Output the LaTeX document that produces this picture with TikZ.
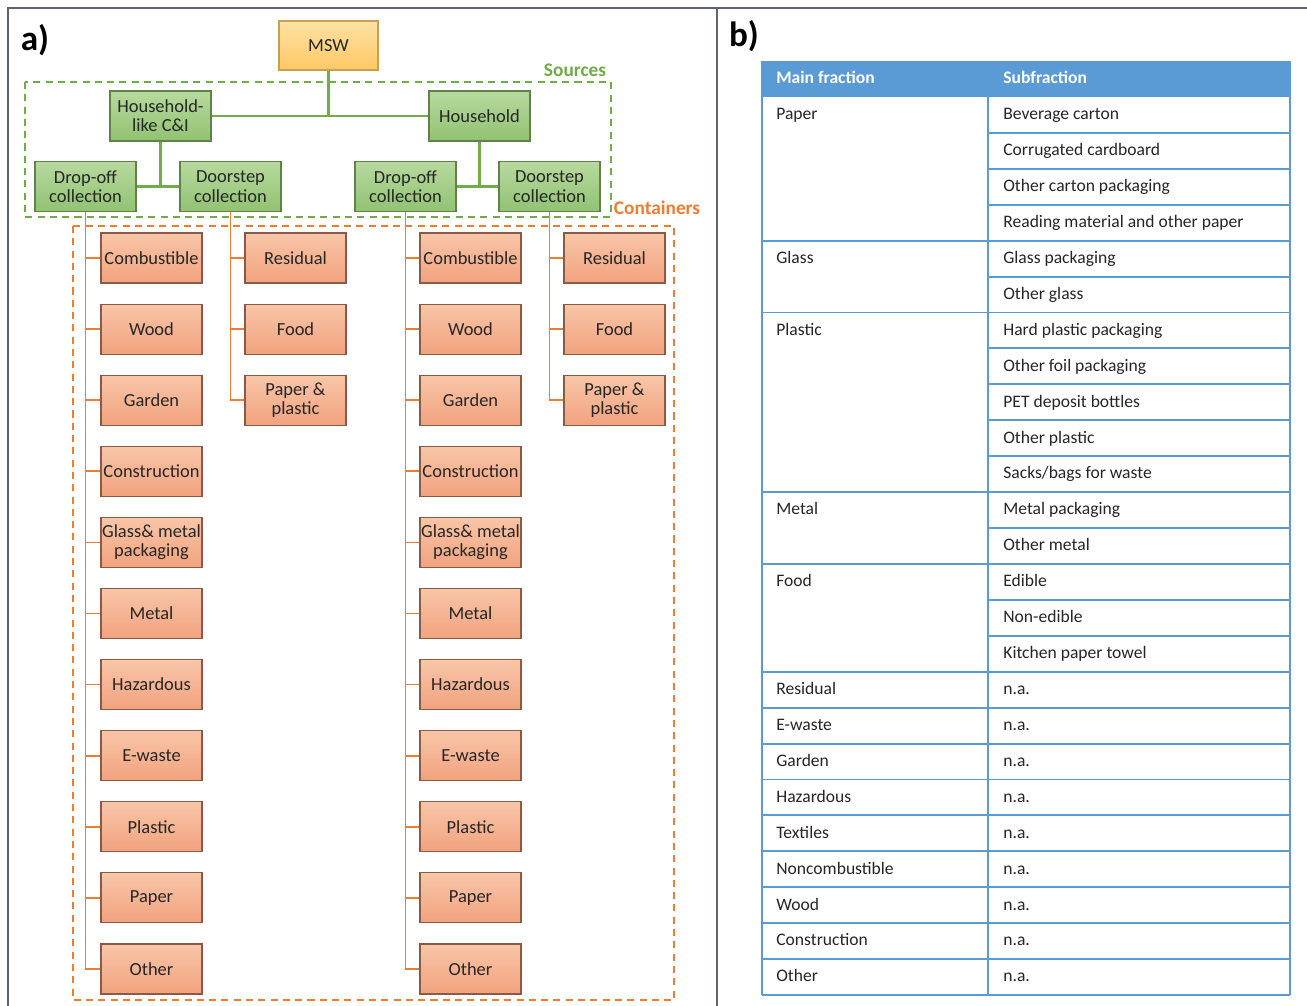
\documentclass[tikz,border=0pt]{standalone}
\usepackage{fontspec}
\setmainfont{Carlito}
\definecolor{frame}{HTML}{5A6475}
\definecolor{gline}{HTML}{70AD47}
\definecolor{oline}{HTML}{ED7D31}
\definecolor{tblue}{HTML}{5B9BD5}
\definecolor{txt}{HTML}{262626}
\definecolor{mswdraw}{HTML}{C8A050}
\definecolor{mswtop}{HTML}{FFE2A5}
\definecolor{mswbot}{HTML}{FFC864}
\definecolor{gdraw}{HTML}{5E8247}
\definecolor{gtop}{HTML}{B7DA9E}
\definecolor{gbot}{HTML}{92C272}
\definecolor{odraw}{HTML}{8A5A45}
\definecolor{otop}{HTML}{F8C6A8}
\definecolor{obot}{HTML}{F2A27E}
\begin{document}
\begin{tikzpicture}[x=0.02cm,y=-0.02cm,
  base/.style={draw, line width=0.6pt, minimum width=2.02cm, minimum height=1cm, inner sep=0pt, align=center, text=txt, font=\fontsize{10.5}{11}\selectfont},
  mswbox/.style={base, draw=mswdraw, top color=mswtop, bottom color=mswbot, minimum width=1.98cm, minimum height=0.98cm},
  gbox/.style={base, draw=gdraw, top color=gtop, bottom color=gbot},
  obox/.style={base, draw=odraw, top color=otop, bottom color=obot},
  gl/.style={draw=gline, line width=1.2pt},
  ol/.style={draw=oline, line width=1pt},
  tl/.style={draw=tblue, line width=1.1pt},
  cell/.style={anchor=west, inner sep=0pt, text height=1.6ex, text depth=0.45ex, text=txt, font=\fontsize{10}{12}\selectfont},
  hcell/.style={anchor=west, inner sep=0pt, text height=1.6ex, text depth=0.45ex, text=white, font=\fontsize{10}{12}\selectfont\bfseries},
  panel/.style={font=\fontsize{20}{22}\selectfont\bfseries, text=black}
]
\useasboundingbox (0,0) rectangle (1307,1006);
\fill[white] (0,0) rectangle (1307,1006);
% frame
\draw[frame, line width=1.2pt] (8,1006) -- (8,8) -- (1307,8);
\draw[frame, line width=1.2pt] (717,8) -- (717,1006);
\node[panel] (la) at (35,40) {a)};
\node[panel] (lb) at (744,36) {b)};

% dashed group frames
\draw[gline, line width=0.9pt, dash pattern=on 4pt off 3pt] (25,82) rectangle (611,217);
\node[text=gline, font=\fontsize{11}{12}\selectfont\bfseries] (src) at (575,70) {Sources};
\draw[oline, line width=0.9pt, dash pattern=on 4pt off 3pt] (73,226) rectangle (674,1000);
\node[text=oline, font=\fontsize{11}{12}\selectfont\bfseries] (cont) at (657,208) {Containers};

% top nodes
\node[mswbox] (msw) at (328.5,45.5) {MSW};
\node[gbox] (hhl) at (160.5,116) {Household-\\like C\&I};
\node[gbox] (hh) at (479.5,116) {Household};
\node[gbox] (dol) at (85.5,186.5) {Drop-off\\collection};
\node[gbox] (dsl) at (230.5,186.5) {Doorstep\\collection};
\node[gbox] (dor) at (405.5,186.5) {Drop-off\\collection};
\node[gbox] (dsr) at (549.5,186.5) {Doorstep\\collection};

\draw[gl] (msw.south) -- (msw.south |- hhl.east);
\draw[gl] (hhl.east) -- (hh.west);
\draw[gl] (hhl.south) -- (hhl.south |- dol.east);
\draw[gl] (dol.east) -- (dsl.west);
\draw[gl] (hh.south) -- (hh.south |- dor.east);
\draw[gl] (dor.east) -- (dsr.west);

% container columns
\foreach \t [count=\i] in {Combustible, Wood, Garden, Construction, {Glass\& metal\\packaging}, Metal, Hazardous, E-waste, Plastic, Paper, Other} {
  \node[obox] (a\i) at (151.5,{258+(\i-1)*71.1}) {\t};
  \node[obox] (c\i) at (470.5,{258+(\i-1)*71.1}) {\t};
}
\foreach \t [count=\i] in {Residual, Food, {Paper \&\\plastic}} {
  \node[obox] (b\i) at (295.5,{258+(\i-1)*71.1}) {\t};
  \node[obox] (d\i) at (614.5,{258+(\i-1)*71.1}) {\t};
}
\draw[ol] (dol.south) -- (dol.south |- a11.west) -- (a11.west);
\draw[ol] (dor.south) -- (dor.south |- c11.west) -- (c11.west);
\draw[ol] (dsl.south) -- (dsl.south |- b3.west) -- (b3.west);
\draw[ol] (dsr.south) -- (dsr.south |- d3.west) -- (d3.west);
\foreach \i in {1,...,10} {
  \draw[ol] (dol.south |- a\i.west) -- (a\i.west);
  \draw[ol] (dor.south |- c\i.west) -- (c\i.west);
}
\foreach \i in {1,2} {
  \draw[ol] (dsl.south |- b\i.west) -- (b\i.west);
  \draw[ol] (dsr.south |- d\i.west) -- (d\i.west);
}

% table
\fill[tblue] (762,61) rectangle (1290,97);
\node[hcell] (h1) at (776,79) {Main fraction};
\node[hcell] (h2) at (1003,79) {Subfraction};
\foreach \s [count=\i] in {Beverage carton, Corrugated cardboard, Other carton packaging, Reading material and other paper, Glass packaging, Other glass, Hard plastic packaging, Other foil packaging, PET deposit bottles, Other plastic, Sacks/bags for waste, Metal packaging, Other metal, Edible, Non-edible, Kitchen paper towel, n.a., n.a., n.a., n.a., n.a., n.a., n.a., n.a., n.a.} {
  \node[cell] (s\i) at (1003,{97+(\i-0.5)*35.92}) {\s};
}
\foreach \m/\r in {Paper/1, Glass/5, Plastic/7, Metal/12, Food/14, Residual/17, E-waste/18, Garden/19, Hazardous/20, Textiles/21, Noncombustible/22, Wood/23, Construction/24, Other/25} {
  \node[cell] (m\r) at (776,{97+(\r-0.5)*35.92}) {\m};
}
\foreach \i in {4,6,11,13,16,17,18,19,20,21,22,23,24,25} {
  \draw[tl] (762,{97+\i*35.92}) -- (1290,{97+\i*35.92});
}
\foreach \i in {1,2,3,5,7,8,9,10,12,14,15} {
  \draw[tl] (988,{97+\i*35.92}) -- (1290,{97+\i*35.92});
}
\draw[tl] (762,61) -- (762,995);
\draw[tl] (1290,61) -- (1290,995);
\draw[tl] (988,97) -- (988,995);
\end{tikzpicture}
\end{document}
